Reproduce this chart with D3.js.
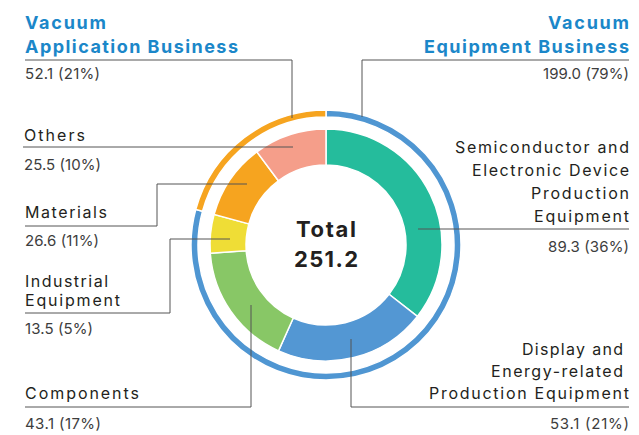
<!DOCTYPE html>
<html><head><meta charset="utf-8">
<script src="https://cdn.jsdelivr.net/npm/d3@7"></script>
<style>
html,body{margin:0;padding:0;background:#fff;}
svg{display:block;font-family:Inter,"Noto Sans",sans-serif;}
</style></head>
<body><svg id="c" width="639" height="435"></svg>
<script>
// Data
const segments = ["Semiconductor and Electronic Device Production Equipment","Display and Energy-related Production Equipment","Components","Industrial Equipment","Materials","Others"];
const segValues = [89.3, 53.1, 43.1, 13.5, 26.6, 25.5];
const segPct = ["36%","21%","17%","5%","11%","10%"];
const segColors = ["#25bc9c","#5397d3","#88c766","#efdd36","#f6a41f","#f59e8a"];
const businesses = ["Vacuum Equipment Business","Vacuum Application Business"];
const bizValues = [199.0, 52.1];
const bizPct = ["79%","21%"];
const bizColors = ["#4f96d2","#f6a41f"];
const total = "251.2";

const svg = d3.select("#c");
const cx = 326, cy = 245;
const g = svg.append("g").attr("transform", `translate(${cx},${cy})`);

const pie = d3.pie().sort(null).value(d => d);
const arcInner = d3.arc().innerRadius(80).outerRadius(116);
const arcOuter = d3.arc().innerRadius(128).outerRadius(135);

g.selectAll("path.seg").data(pie(segValues)).join("path")
  .attr("class","seg").attr("d", arcInner)
  .attr("fill", (d,i) => segColors[i]).attr("stroke","#fff").attr("stroke-width",1.5);

g.selectAll("path.biz").data(pie(bizValues)).join("path")
  .attr("class","biz").attr("d", arcOuter)
  .attr("fill", (d,i) => bizColors[i]).attr("stroke","#fff").attr("stroke-width",1.5);

const blue = "#1b87c9", dark = "#231f20", grey = "#3d3d3d";
function txt(x,y,s,opt){
  const t = svg.append("text").attr("x",x).attr("y",y).text(s)
    .attr("font-size",opt.size||16).attr("fill",opt.fill||dark)
    .attr("font-weight",opt.weight||400).attr("text-anchor",opt.anchor||"start");
  if (opt.w) t.attr("textLength",opt.w).attr("lengthAdjust","spacing");
  return t;
}

// center text
txt(cx,237,"Total",{size:22,weight:700,anchor:"middle",w:60});
txt(cx,267,total,{size:22,weight:700,anchor:"middle",w:64});

// leader lines (layout)
const lineColor = "#555";
const leaders = [
  [[25,60],[292,60],[292,118]],
  [[629,60],[362,60],[362,117]],
  [[23,147],[293,147]],
  [[25,226],[157,226],[157,184],[247,184]],
  [[25,313],[170,313],[170,239],[230,239]],
  [[25,407],[251,407],[251,305]],
  [[629,229],[418,229]],
  [[629,407],[351,407],[351,339]]
];
svg.selectAll("path.lead").data(leaders).join("path").attr("class","lead")
  .attr("d", d => d3.line()(d)).attr("fill","none").attr("stroke",lineColor).attr("stroke-width",1);

const num = (v,p) => `${v.toFixed(1)} (${p})`;
// Left side
txt(25,29,"Vacuum",{size:18,weight:700,fill:blue,w:81});
txt(25,53,"Application Business",{size:18,weight:700,fill:blue,w:213});
txt(25,79,num(bizValues[1],bizPct[1]),{size:15,fill:grey,w:75});

txt(24,141,"Others",{w:61});
txt(24,170,num(segValues[5],segPct[5]),{size:15,fill:grey,w:77});

txt(25,218,"Materials",{w:82});
txt(25,246,num(segValues[4],segPct[4]),{size:15,fill:grey,w:74});

txt(25,287,"Industrial",{w:83});
txt(25,306,"Equipment",{w:95});
txt(25,334,num(segValues[3],segPct[3]),{size:15,fill:grey,w:68});

txt(25,399,"Components",{w:114});
txt(25,429,num(segValues[2],segPct[2]),{size:15,fill:grey,w:76});

// Right side
txt(629,29,"Vacuum",{size:18,weight:700,fill:blue,anchor:"end",w:81});
txt(629,53,"Equipment Business",{size:18,weight:700,fill:blue,anchor:"end",w:205});
txt(629,79,num(bizValues[0],bizPct[0]),{size:15,fill:grey,anchor:"end",w:86});

txt(629,153,"Semiconductor and",{anchor:"end",w:174});
txt(629,176,"Electronic Device",{anchor:"end",w:157});
txt(629,199,"Production",{anchor:"end",w:98});
txt(629,222,"Equipment",{anchor:"end",w:95});
txt(629,252,num(segValues[0],segPct[0]),{size:15,fill:grey,anchor:"end",w:81});

txt(623,355,"Display and",{anchor:"end",w:101});
txt(623,377,"Energy-related",{anchor:"end",w:132});
txt(629,399,"Production Equipment",{anchor:"end",w:200});
txt(629,429,num(segValues[1],segPct[1]),{size:15,fill:grey,anchor:"end",w:79});
</script></body></html>
